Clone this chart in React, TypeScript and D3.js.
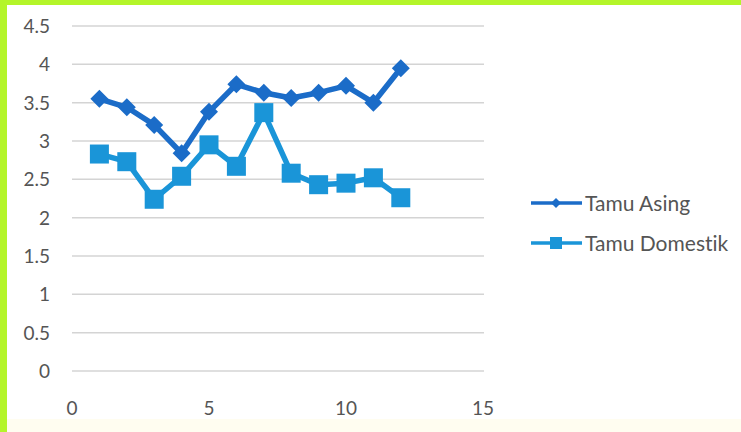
import React from "react";
import * as d3 from "d3";

const xValues = [1, 2, 3, 4, 5, 6, 7, 8, 9, 10, 11, 12];
const tamuAsing = [3.55, 3.44, 3.21, 2.84, 3.38, 3.74, 3.63, 3.56, 3.63, 3.72, 3.5, 3.95];
const tamuDomestik = [2.83, 2.73, 2.24, 2.54, 2.95, 2.67, 3.37, 2.58, 2.43, 2.45, 2.52, 2.26];
const yTicks = [0, 0.5, 1, 1.5, 2, 2.5, 3, 3.5, 4, 4.5];
const xTicks = [0, 5, 10, 15];
const seriesNames = ["Tamu Asing", "Tamu Domestik"];

const W = 741;
const H = 432;
const FONT = "Lato, 'Open Sans', sans-serif";
const C_ASING = "#1b6cc8";
const C_DOM = "#1a95d8";
const TXT = "#555555";

export default function App() {
  const x = d3.scaleLinear().domain([0, 15]).range([72, 483]);
  const y = d3.scaleLinear().domain([0, 4.5]).range([371, 26]);
  const line = d3
    .line<number>()
    .x((_, i) => x(xValues[i]))
    .y((d) => y(d));

  const diamond = (cx: number, cy: number, r: number) =>
    `M${cx},${cy - r}L${cx + r},${cy}L${cx},${cy + r}L${cx - r},${cy}Z`;

  return (
    <svg
      width={W}
      height={H}
      style={{
        position: "absolute",
        left: 0,
        top: 0,
        display: "block",
        fontVariantLigatures: "none",
        fontFeatureSettings: "'liga' 0, 'clig' 0, 'dlig' 0",
      }}
      fontFamily={FONT}
    >
      <rect x={0} y={0} width={W} height={H} fill="#ffffff" />
      <rect x={0} y={419} width={W} height={13} fill="#fffdf0" />
      <rect x={0} y={0} width={W} height={5} fill="#b4f52a" />
      <rect x={0} y={0} width={7} height={H} fill="#b4f52a" />

      {yTicks.map((t) => (
        <g key={t}>
          <line x1={72} x2={484} y1={y(t)} y2={y(t)} stroke="#d4d4d4" strokeWidth={1.5} />
          <text x={50} y={y(t)} dy="0.36em" textAnchor="end" fontSize={19} fill={TXT}>
            {t}
          </text>
        </g>
      ))}
      {xTicks.map((t) => (
        <text key={t} x={x(t)} y={408} dy="0.36em" textAnchor="middle" fontSize={19} fill={TXT}>
          {t}
        </text>
      ))}

      <path d={line(tamuAsing) || ""} fill="none" stroke={C_ASING} strokeWidth={5.5} strokeLinejoin="round" />
      {tamuAsing.map((v, i) => (
        <path key={i} d={diamond(x(xValues[i]), y(v), 9)} fill={C_ASING} />
      ))}

      <path d={line(tamuDomestik) || ""} fill="none" stroke={C_DOM} strokeWidth={5.5} strokeLinejoin="round" />
      {tamuDomestik.map((v, i) => (
        <rect key={i} x={x(xValues[i]) - 9.5} y={y(v) - 9.5} width={19} height={19} fill={C_DOM} />
      ))}

      <g>
        <line x1={531} x2={582} y1={203} y2={203} stroke={C_ASING} strokeWidth={3.5} />
        <path d={diamond(556, 203, 5)} fill={C_ASING} />
        <text x={585} y={203} dy="0.36em" fontSize={21} fill={TXT}>
          {seriesNames[0]}
        </text>
        <line x1={531} x2={582} y1={243} y2={243} stroke={C_DOM} strokeWidth={3.5} />
        <rect x={550} y={237} width={12} height={12} fill={C_DOM} />
        <text x={585} y={243} dy="0.36em" fontSize={21} fill={TXT}>
          {seriesNames[1]}
        </text>
      </g>
    </svg>
  );
}
